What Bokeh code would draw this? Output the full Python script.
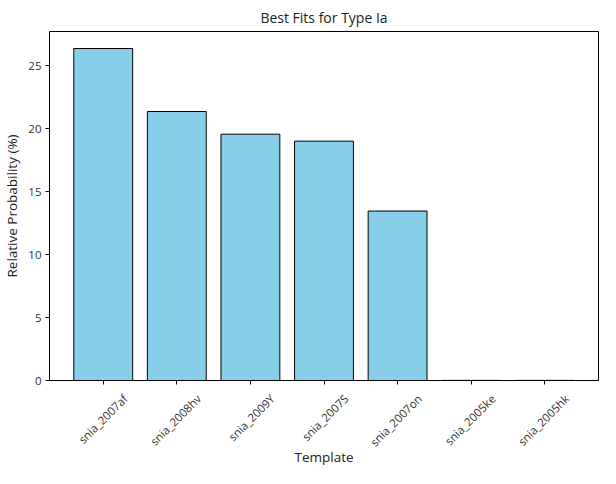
import math
from bokeh.plotting import figure
from bokeh.models import ColumnDataSource, Range1d, FixedTicker, LinearAxis
from bokeh.embed import file_html
from bokeh.resources import INLINE

templates = ["snia_2007af", "snia_2008hv", "snia_2009Y", "snia_2007S",
             "snia_2007on", "snia_2005ke", "snia_2005hk"]
probabilities = [26.35, 21.35, 19.55, 19.0, 13.45, 0.01, 0.01]
y_ticks = [0, 5, 10, 15, 20, 25]

FONT = "Open Sans"
TICK_FS = "11.5px"
LABEL_FS = "13.5px"

n = len(templates)
positions = list(range(n))
margin = 0.73              # x-axis margin beyond first/last category
label_shift = 0.30         # shifts rotated tick labels so they centre on ticks

src = ColumnDataSource(data=dict(pos=positions, template=templates,
                                 prob=probabilities))

p = figure(width=600, height=468, output_backend="svg", toolbar_location=None,
           x_range=Range1d(-margin, n - 1 + margin), y_range=Range1d(0, 27.7),
           title="Best Fits for Type Ia", min_border_right=2, min_border_left=0,
           min_border_top=0, min_border_bottom=0)
p.extra_x_ranges = {"labels": Range1d(start=-margin - label_shift,
                                      end=n - 1 + margin - label_shift)}

p.vbar(x="pos", top="prob", width=0.8, source=src,
       fill_color="#87CEEB", line_color="black", line_width=1)

p.title.align = "center"
p.title.text_font = FONT
p.title.text_font_size = "14px"
p.title.text_font_style = "normal"
p.title.text_color = "#222222"

p.xgrid.visible = False
p.ygrid.visible = False
p.outline_line_color = "black"
p.outline_line_alpha = 1.0
p.outline_line_width = 1

xax = p.xaxis[0]
yax = p.yaxis[0]
for ax in (xax, yax):
    ax.major_label_text_font = FONT
    ax.major_label_text_font_size = TICK_FS
    ax.major_label_text_color = "#333333"
    ax.axis_label_text_font = FONT
    ax.axis_label_text_font_size = LABEL_FS
    ax.axis_label_text_font_style = "normal"
    ax.axis_label_text_color = "#222222"
    ax.axis_line_color = "black"
    ax.major_tick_line_color = "black"
    ax.major_tick_in = 0
    ax.major_tick_out = 4
    ax.minor_tick_line_color = None

yax.ticker = FixedTicker(ticks=y_ticks)
yax.axis_label = "Relative Probability (%)"
yax.major_label_standoff = 4
yax.axis_label_standoff = 4

# main x axis: ticks only
xax.ticker = FixedTicker(ticks=positions)
xax.major_label_overrides = {i: "" for i in positions}
xax.major_label_standoff = 0

# label axis: the template names, rotated 45 degrees
lab_ax = LinearAxis(x_range_name="labels",
                    ticker=FixedTicker(ticks=positions),
                    major_label_overrides={i: t for i, t in zip(positions, templates)},
                    major_label_orientation=math.pi / 4,
                    major_label_standoff=6,
                    major_label_text_font=FONT,
                    major_label_text_font_size=TICK_FS,
                    major_label_text_color="#333333",
                    axis_line_color=None, major_tick_line_color=None,
                    minor_tick_line_color=None,
                    axis_label="Template", axis_label_standoff=-10,
                    axis_label_text_font=FONT, axis_label_text_font_size=LABEL_FS,
                    axis_label_text_font_style="normal",
                    axis_label_text_color="#222222")
p.add_layout(lab_ax, "below")

open("out.html", "w").write(file_html(p, INLINE))
